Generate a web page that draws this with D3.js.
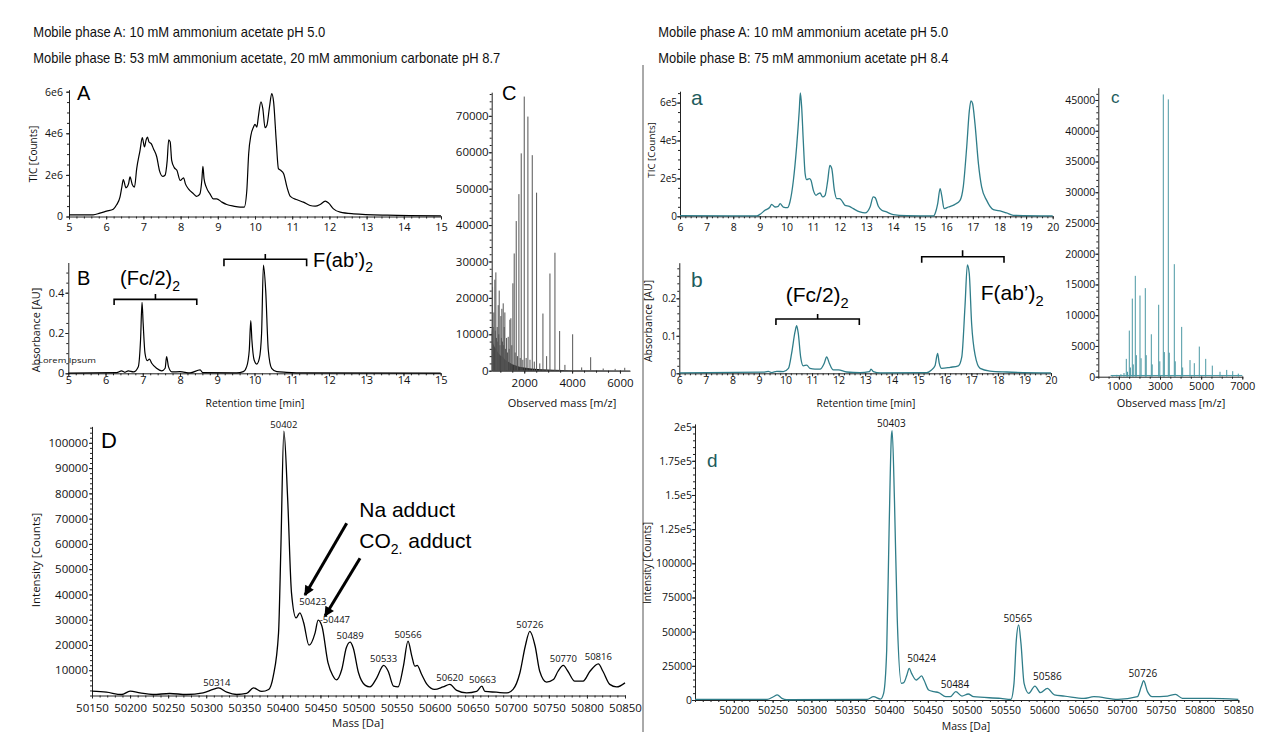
<!DOCTYPE html>
<html><head><meta charset="utf-8">
<script src="https://cdn.jsdelivr.net/npm/d3@7"></script>
<style>
body{margin:0;background:#fff;}
svg{display:block;}
</style></head><body>
<svg id="chart" width="1280" height="752"></svg>
<script>
// ================= DATA =================
const headerLeft = ["Mobile phase A: 10 mM ammonium acetate pH 5.0",
  "Mobile phase B: 53 mM ammonium acetate, 20 mM ammonium carbonate pH 8.7"];
const headerRight = ["Mobile phase A: 10 mM ammonium acetate pH 5.0",
  "Mobile phase B: 75 mM ammonium acetate pH 8.4"];

// Panel A: TIC [Counts] vs retention time [min]
const ticA = [[5.00,80000],[5.65,80000],[5.83,160000],[6.01,257000],[6.19,353000],[6.28,562000],[6.37,932000],[6.42,1410000],[6.46,1770000],[6.53,1380000],[6.60,1570000],[6.64,1900000],[6.70,1540000],[6.76,1410000],[6.82,2300000],[6.91,3180000],[6.97,3790000],[7.03,3340000],[7.07,3660000],[7.11,3820000],[7.15,3580000],[7.21,3500000],[7.27,3260000],[7.36,2860000],[7.43,2220000],[7.52,1930000],[7.58,1980000],[7.64,2700000],[7.68,3690000],[7.72,3580000],[7.76,2700000],[7.83,2350000],[7.90,2220000],[7.99,1730000],[8.08,1860000],[8.13,1570000],[8.21,1330000],[8.35,1090000],[8.43,964000],[8.52,1090000],[8.57,1730000],[8.60,2410000],[8.63,1820000],[8.69,1410000],[8.79,1090000],[8.88,851000],[8.97,851000],[9.11,691000],[9.24,578000],[9.42,498000],[9.60,450000],[9.71,450000],[9.78,1250000],[9.83,3020000],[9.89,3900000],[9.96,4300000],[10.00,4430000],[10.05,4300000],[10.09,4790000],[10.16,5510000],[10.21,5190000],[10.27,4270000],[10.32,4390000],[10.39,5270000],[10.45,5910000],[10.50,5510000],[10.57,3660000],[10.63,2300000],[10.69,2220000],[10.77,2060000],[10.86,1410000],[10.95,964000],[11.13,803000],[11.30,691000],[11.48,530000],[11.62,498000],[11.75,578000],[11.89,739000],[11.98,643000],[12.11,369000],[12.29,209000],[12.65,128000],[13.55,64000],[15.00,32000]];
const ticksA_x = [5,6,7,8,9,10,11,12,13,14,15];
const ticksA_y = [0,2e6,4e6,6e6];
const labelsA_y = ["0","2e6","4e6","6e6"];

// Panel B: absorbance [AU]
const uvB = [[5,0.001],[6.30,0.003],[6.43,0.012],[6.52,0.005],[6.61,0.012],[6.75,0.007],[6.88,0.033],[6.94,0.165],[6.98,0.352],[7.01,0.248],[7.06,0.099],[7.12,0.063],[7.18,0.07],[7.24,0.05],[7.37,0.025],[7.51,0.012],[7.60,0.025],[7.64,0.083],[7.69,0.033],[7.78,0.007],[8.0,0.008],[8.27,0.002],[8.54,0.017],[8.61,0.003],[9.52,0.002],[9.70,0.008],[9.79,0.033],[9.86,0.116],[9.90,0.261],[9.93,0.165],[9.99,0.066],[10.06,0.046],[10.13,0.074],[10.19,0.198],[10.24,0.537],[10.30,0.413],[10.37,0.116],[10.46,0.025],[10.60,0.008],[10.86,0.005],[11.31,0.002],[15,0.0005]];
const ticksB_x = [5,6,7,8,9,10,11,12,13,14,15];
const ticksB_y = [0,0.2,0.4];
const labelsB_y = ["0","0.2","0.4"];

// Panel C: mass spectrum (m/z, intensity)
const envelopeC = [[640,12000],[660,9000],[700,7500],[760,6500],[820,6000],[900,5000],[1000,4200],[1100,3800],[1200,3000],[1300,2600],[1400,2200],[1500,1800],[1650,1400],[1800,1100],[2000,900],[2300,600],[2700,400],[3200,250],[4000,150],[5000,100],[6420,80]];
const sticksC = [[675,23000],[700,12000],[730,16000],[772,25000],[790,11000],[814,27000],[840,9000],[870,12000],[895,8000],[912,18000],[935,10000],[954,22000],[985,7000],[1023,15000],[1045,9000],[1065,17000],[1090,8000],[1121,18500],[1140,7000],[1163,12000],[1190,16000],[1220,6000],[1261,9000],[1300,5000],[1330,9300],[1370,6000],[1400,14000],[1442,14400],[1480,7000],[1526,24000],[1581,32200],[1620,5000],[1665,41100],[1720,4000],[1777,48500],[1830,3500],[1874,59700],[1940,3000],[2000,75300],[2080,3500],[2153,69800],[2240,3000],[2335,59200],[2420,2500],[2516,48900],[2650,2000],[2781,15700],[2935,4000],[3074,26700],[3283,32400],[3479,10900],[3700,1600],[4023,10000],[4400,900],[4776,3700],[5300,600],[5800,500],[6200,800]];
const ticksC_x = [2000,4000,6000];
const ticksC_y = [0,10000,20000,30000,40000,50000,60000,70000];

// Panel D: deconvoluted mass [Da] vs intensity [Counts]
const massD = [[50150,1700],[50169,1300],[50189,400],[50200,1700],[50213,1050],[50230,400],[50252,800],[50274,400],[50296,1050],[50309,2400],[50316,3000],[50327,1300],[50340,400],[50353,800],[50362,3000],[50373,1600],[50382,2400],[50388,7600],[50395,24800],[50398,57800],[50402,104600],[50407,77600],[50412,40600],[50418,30700],[50423,32700],[50428,28800],[50435,19900],[50443,24800],[50447,29800],[50452,27400],[50460,12900],[50466,8000],[50471,6200],[50478,10300],[50484,18900],[50489,21100],[50493,18900],[50500,9000],[50509,4000],[50515,3400],[50524,7000],[50533,11900],[50539,9600],[50546,3700],[50552,3400],[50559,11600],[50565,21500],[50570,15600],[50574,11600],[50577,11900],[50583,8300],[50590,4400],[50600,2400],[50611,3400],[50620,4400],[50629,2000],[50642,1000],[50655,1600],[50662,3700],[50666,1600],[50681,1300],[50695,1000],[50703,2400],[50712,9000],[50719,19500],[50725,25400],[50732,19500],[50738,9600],[50747,5300],[50756,6300],[50762,9600],[50769,11900],[50775,9600],[50784,5700],[50795,5700],[50804,9600],[50815,12500],[50821,9600],[50830,4400],[50839,3400],[50850,5000]];
const ticksD_x = [50150,50200,50250,50300,50350,50400,50450,50500,50550,50600,50650,50700,50750,50800,50850];
const ticksD_y = [10000,20000,30000,40000,50000,60000,70000,80000,90000,100000];
// peak labels: [text, mass at label centre, intensity at label baseline]
const peakLabelsD = [["50314",50314,3880],["50402",50402,105900],["50423",50440,35800],["-50447",50469,28700],["50489",50489,22400],["50533",50533,13300],["50566",50565,22900],["50620",50620,5900],["50663",50663,4800],["50726",50725,26800],["50770",50769,13300],["50816",50815,14000]];

// Panel a
const ticA2 = [[6.0,3500],[8.88,1800],[9.0,10000],[9.19,31700],[9.38,49000],[9.44,63000],[9.57,49000],[9.69,52800],[9.76,66800],[9.88,49000],[10.04,45700],[10.13,75600],[10.26,190000],[10.38,366000],[10.48,559000],[10.52,651000],[10.57,577000],[10.63,401000],[10.70,225000],[10.76,193000],[10.86,199000],[10.92,190000],[11.01,137000],[11.11,111000],[11.20,120000],[11.26,123000],[11.36,102000],[11.45,111000],[11.55,190000],[11.63,269000],[11.70,252000],[11.80,137000],[11.89,93000],[11.99,93000],[12.07,84000],[12.20,58000],[12.36,52800],[12.51,40500],[12.76,22900],[12.95,17600],[13.14,49000],[13.26,102000],[13.33,98500],[13.45,52800],[13.58,31700],[13.76,22900],[14.01,8800],[14.51,3500],[15.52,1800],[15.58,14000],[15.68,66800],[15.77,146000],[15.83,111000],[15.92,40500],[16.08,49000],[16.33,63000],[16.52,84000],[16.64,155000],[16.77,366000],[16.87,559000],[16.93,609000],[16.99,595000],[17.08,489000],[17.21,278000],[17.33,155000],[17.52,84000],[17.77,35200],[18.08,26400],[18.27,17600],[18.52,5300],[20.0,1800]];
const ticksa_x = [6,7,8,9,10,11,12,13,14,15,16,17,18,19,20];
const ticksa_y = [0,2e5,4e5,6e5];
const labelsa_y = ["0","2e5","4e5","6e5"];

// Panel b
const uvb = [[6,0.001],[9.16,0.003],[9.35,0.005],[9.48,0.002],[9.67,0.005],[9.92,0.0045],[10.11,0.013],[10.23,0.053],[10.36,0.111],[10.42,0.127],[10.48,0.107],[10.57,0.044],[10.67,0.02],[10.80,0.022],[10.92,0.013],[11.11,0.011],[11.30,0.011],[11.46,0.027],[11.55,0.044],[11.65,0.027],[11.80,0.009],[11.99,0.009],[12.30,0.0035],[12.81,0.002],[13.16,0.0045],[13.22,0.011],[13.31,0.0045],[13.56,0.001],[15.32,0.002],[15.5,0.009],[15.63,0.02],[15.73,0.053],[15.79,0.027],[15.88,0.013],[16.2,0.016],[16.51,0.02],[16.64,0.044],[16.76,0.178],[16.85,0.289],[16.92,0.267],[17.01,0.133],[17.14,0.049],[17.33,0.013],[17.70,0.006],[18.33,0.0035],[20,0.001]];
const ticksb_x = [6,7,8,9,10,11,12,13,14,15,16,17,18,19,20];
const ticksb_y = [0,0.1,0.2];
const labelsb_y = ["0","0.1","0.2"];

// Panel c
const sticksc = [[700,200],[900,300],[1100,400],[1250,600],[1361,2900],[1420,800],[1507,7500],[1560,1500],[1653,12700],[1700,2000],[1799,16400],[1850,3500],[2027,13200],[2080,3000],[2285,14400],[2330,3500],[2577,6900],[2620,2000],[2935,11700],[2990,2500],[3160,45900],[3210,4000],[3403,45100],[3450,3900],[3695,18300],[3740,2500],[4053,8100],[4100,1500],[4458,2700],[4667,2200],[4910,4900],[5221,2900],[5542,1800],[5917,800],[6242,1100],[6534,900],[6806,500]];
const ticksc_x = [1000,3000,5000,7000];
const ticksc_y = [0,5000,10000,15000,20000,25000,30000,35000,40000,45000];

// Panel d
const massd = [[50150,500],[50243,500],[50251,2400],[50256,3700],[50262,1200],[50268,200],[50372,500],[50380,2400],[50389,700],[50393,4900],[50397,36600],[50400,122000],[50403,192600],[50404,197000],[50407,146000],[50410.5,61000],[50416,12200],[50419,12700],[50423,18300],[50426,23200],[50429,19500],[50435,14600],[50438,15800],[50442,17600],[50445,14600],[50451,7300],[50458,6100],[50464,5400],[50473,2400],[50479,2400],[50486,6100],[50494,2900],[50502,4400],[50509,2400],[50544,1200],[50557,500],[50561,12200],[50564,43900],[50567,54900],[50570,41400],[50574,12200],[50580,4900],[50588,10200],[50595,5400],[50604,8500],[50613,3700],[50626,2900],[50651,1200],[50664,2400],[50695,500],[50720,2400],[50725,9800],[50728,14100],[50733,6100],[50739,2400],[50759,2900],[50769,4100],[50778,1200],[50815,1200],[50850,500]];
const ticksd_x = [50200,50250,50300,50350,50400,50450,50500,50550,50600,50650,50700,50750,50800,50850];
const ticksd_y = [0,25000,50000,75000,100000,125000,150000,175000,200000];
const labelsd_y = ["0","25000","50000","75000","100000","1.25e5","1.5e5","1.75e5","2e5"];
const peakLabelsd = [["50403",50403,199900],["50424",50442,28000],["50484",50485,8600],["50565",50566,57300],["50586",50604,14600],["50726",50727,16600]];

// ================= DRAWING =================
const FONT = "'Open Sans', sans-serif";
const ARIAL = "'Liberation Sans', Arial, sans-serif";
const AX = "#222";
const TEAL = "#2f7d89";
const TEAL_LIGHT = "#4a98a3";
const TEAL_DARK = "#1d5b5c";
const svg = d3.select("#chart");

const defs = svg.append("defs");
defs.append("marker").attr("id","arr").attr("viewBox","0 0 10 10")
  .attr("refX",9).attr("refY",5).attr("markerWidth",12).attr("markerHeight",10)
  .attr("markerUnits","userSpaceOnUse").attr("orient","auto")
  .append("path").attr("d","M0,0 L10,5 L0,10 z").attr("fill","#000");

function panel(p) {
  const x = d3.scaleLinear().domain(p.xd).range(p.xr);
  const y = d3.scaleLinear().domain(p.yd).range(p.yr);
  const g = svg.append("g");
  const x0 = p.xr[0], y0 = y(0);
  if (p.yMinor) g.append("g").attr("transform",`translate(${x0},0)`).attr("color",AX)
    .call(d3.axisLeft(y).tickValues(p.yMinor).tickSize(2).tickFormat(() => "").tickSizeOuter(0))
    .call(s => s.select(".domain").remove());
  if (p.xMinor) g.append("g").attr("transform",`translate(0,${y0})`).attr("color",AX)
    .call(d3.axisBottom(x).tickValues(p.xMinor).tickSize(2).tickFormat(() => "").tickSizeOuter(0))
    .call(s => s.select(".domain").remove());
  const ya = g.append("g").attr("transform",`translate(${x0},0)`).attr("color",AX)
    .call(d3.axisLeft(y).tickValues(p.yTicks)
      .tickFormat(d => p.yLabels ? p.yLabels[p.yTicks.indexOf(d)] : String(d))
      .tickSize(3).tickPadding(p.yPad).tickSizeOuter(0));
  ya.attr("font-family",FONT).attr("font-size",p.yFont);
  ya.selectAll("text").attr("fill","#111");
  const xa = g.append("g").attr("transform",`translate(0,${y0})`).attr("color",AX)
    .call(d3.axisBottom(x).tickValues(p.xTicks)
      .tickFormat(d => String(d))
      .tickSize(3).tickPadding(p.xPad).tickSizeOuter(0));
  xa.attr("font-family",FONT).attr("font-size",p.xFont);
  xa.selectAll("text").attr("fill","#111");
  if (p.yTitle) g.append("text").attr("transform",`translate(${p.yTitle[0]},${p.yTitle[1]}) rotate(-90)`)
    .attr("text-anchor","middle").attr("font-family",FONT).attr("font-size",p.yTitle[2]).attr("fill","#111")
    .text(p.yTitle[3]);
  if (p.xTitle) g.append("text").attr("x",p.xTitle[0]).attr("y",p.xTitle[1])
    .attr("text-anchor","middle").attr("font-family",FONT).attr("font-size",p.xTitle[2]).attr("fill","#111")
    .text(p.xTitle[3]);
  if (p.letter) g.append("text").attr("x",p.letter[0]).attr("y",p.letter[1])
    .attr("font-family",ARIAL).attr("font-size",p.letter[2]).attr("fill",p.letter[4] || "#000")
    .text(p.letter[3]);
  return {x, y, g};
}

function trace(P, data, color, w) {
  P.g.append("path").datum(data)
    .attr("d", d3.line().x(d => P.x(d[0])).y(d => P.y(d[1])).curve(d3.curveMonotoneX))
    .attr("fill","none").attr("stroke",color).attr("stroke-width",w).attr("stroke-linejoin","round");
}
function sticks(P, data, color, w) {
  P.g.append("g").selectAll("line").data(data).join("line")
    .attr("x1", d => P.x(d[0])).attr("x2", d => P.x(d[0]))
    .attr("y1", P.y(0)).attr("y2", d => P.y(d[1]))
    .attr("stroke", color).attr("stroke-width", w);
}
function bracket(P, x1, x2, xc, yBar, yEnd, yTick) {
  P.g.append("path")
    .attr("d", `M${P.x(x1)},${P.y(yEnd)} V${P.y(yBar)} H${P.x(x2)} V${P.y(yEnd)} M${P.x(xc)},${P.y(yBar)} V${P.y(yTick)}`)
    .attr("fill","none").attr("stroke","#000").attr("stroke-width",1.6);
}
function subLabel(P, xv, yv, main, sub, size) {
  const t = P.g.append("text").attr("x",P.x(xv)).attr("y",P.y(yv))
    .attr("font-family",ARIAL).attr("font-size",size).attr("fill","#000");
  t.append("tspan").text(main);
  t.append("tspan").attr("font-size",size*0.7).attr("dy",size*0.28).text(sub);
}
function peakLabels(P, labels, size) {
  P.g.append("g").selectAll("text").data(labels).join("text")
    .attr("x", d => P.x(d[1])).attr("y", d => P.y(d[2]))
    .attr("text-anchor","middle").attr("font-family",FONT).attr("font-size",size).attr("fill","#111")
    .text(d => d[0]);
}

[[headerLeft, 33.3, [292, 467]],[headerRight, 658.3, [290, 290]]].forEach(([lines, hx, widths]) => {
  lines.forEach((s, i) => svg.append("text").attr("x",hx).attr("y", i ? 63.3 : 36.7)
    .attr("font-family",ARIAL).attr("font-size",14.5).attr("fill","#111")
    .attr("textLength",widths[i]).attr("lengthAdjust","spacingAndGlyphs").text(s));
});
// divider
svg.append("line").attr("x1",643).attr("x2",643).attr("y1",65).attr("y2",732)
  .attr("stroke","#555").attr("stroke-width",1);

// ---------- A ----------
const PA = panel({xd:[5,15], xr:[69,441], yd:[0,6.1e6], yr:[216.5,89.6],
  xTicks:ticksA_x, xMinor:d3.range(5,15.01,0.2), xPad:4, xFont:11,
  yTicks:ticksA_y, yLabels:labelsA_y, yMinor:d3.range(0,6.1e6,0.5e6), yPad:3, yFont:10.5,
  yTitle:[37,154,10,"TIC [Counts]"], letter:[77,100,20,"A"]});
trace(PA, ticA, "#000", 1.2);

// ---------- B ----------
const PB = panel({xd:[5,15], xr:[68.3,440.7], yd:[0,0.55], yr:[373.3,262.5],
  xTicks:ticksB_x, xMinor:d3.range(5,15.01,0.2), xPad:0, xFont:11,
  yTicks:ticksB_y, yLabels:labelsB_y, yMinor:d3.range(0,0.55,0.05), yPad:1, yFont:11,
  yTitle:[40,330,10.8,"Absorbance [AU]"], xTitle:[255,407,10.3,"Retention time [min]"],
  letter:[77,285,20,"B"]});
trace(PB, uvB, "#000", 1.2);
bracket(PB, 6.23, 8.45, 7.34, 0.367, 0.339, 0.394);
bracket(PB, 9.18, 11.40, 10.29, 0.566, 0.532, 0.592);
subLabel(PB, 6.39, 0.438, "(Fc/2)", "2", 20);
subLabel(PB, 11.57, 0.529, "F(ab\u2019)", "2", 20);
PB.g.append("text").attr("x",38).attr("y",363.3).attr("font-family",FONT).attr("font-size",6.5)
  .attr("textLength",58).attr("lengthAdjust","spacingAndGlyphs")
  .attr("fill","#111").text("Lorem Ipsum");

// ---------- C ----------
const PC = panel({xd:[640,6420], xr:[491.7,630], yd:[0,76500], yr:[370.7,92.2],
  xTicks:ticksC_x, xMinor:d3.range(1000,6420,500), xPad:5, xFont:11.5,
  yTicks:ticksC_y, yMinor:d3.range(0,76500,2000), yPad:0, yFont:11.5,
  xTitle:[562,407,11,"Observed mass [m/z]"], letter:[502,100,20,"C"]});
PC.g.append("path").datum(envelopeC)
  .attr("d", d3.area().x(d => PC.x(d[0])).y0(PC.y(0)).y1(d => PC.y(d[1])))
  .attr("fill","#111");
sticks(PC, sticksC, "#555", 1);

// ---------- D ----------
const PD = panel({xd:[50150,50850], xr:[92,625], yd:[0,106500], yr:[695.5,426.4],
  xTicks:ticksD_x, xMinor:d3.range(50150,50851,10), xPad:5, xFont:11.5,
  yTicks:ticksD_y, yMinor:d3.range(0,106500,2000), yPad:1, yFont:11.5,
  yTitle:[40,560,11.5,"Intensity [Counts]"], xTitle:[358,727,11.3,"Mass [Da]"],
  letter:[101,448,22,"D"]});
trace(PD, massD, "#000", 1.3);
peakLabels(PD, peakLabelsD, 9.5);
// annotation arrows (data space: [mass1, int1, mass2, int2])
const arrowsD = [[50484.5,68150,50429.7,39770],[50502,54290,50456,31460]];
arrowsD.forEach(a => PD.g.append("line")
  .attr("x1",PD.x(a[0])).attr("y1",PD.y(a[1])).attr("x2",PD.x(a[2])).attr("y2",PD.y(a[3]))
  .attr("stroke","#000").attr("stroke-width",3).attr("marker-end","url(#arr)"));
PD.g.append("text").attr("x",PD.x(50501)).attr("y",PD.y(70500))
  .attr("font-family",ARIAL).attr("font-size",21).attr("fill","#000").text("Na adduct");
{
  const t = PD.g.append("text").attr("x",PD.x(50501)).attr("y",PD.y(58250))
    .attr("font-family",ARIAL).attr("font-size",21).attr("fill","#000");
  t.append("tspan").text("CO");
  t.append("tspan").attr("font-size",14).attr("dy",6).text("2.");
  t.append("tspan").attr("dy",-6).text(" adduct");
}

// ---------- a ----------
const Pa = panel({xd:[6,20], xr:[680,1052.7], yd:[0,6.6e5], yr:[216.3,91.2],
  xTicks:ticksa_x, xMinor:d3.range(6,20.01,0.2), xPad:4, xFont:10.5,
  yTicks:ticksa_y, yLabels:labelsa_y, yMinor:d3.range(0,6.6e5,0.5e5), yPad:0, yFont:10,
  yTitle:[655,150,9.8,"TIC [Counts]"], letter:[691,105,21,"a",TEAL_DARK]});
trace(Pa, ticA2, TEAL, 1.3);

// ---------- b ----------
const Pb = panel({xd:[6,20], xr:[679.3,1051], yd:[0,0.295], yr:[373.3,262.7],
  xTicks:ticksb_x, xMinor:d3.range(6,20.01,0.2), xPad:0, xFont:10.5,
  yTicks:ticksb_y, yLabels:labelsb_y, yMinor:d3.range(0,0.295,0.02), yPad:0, yFont:10,
  yTitle:[652,321,10.5,"Absorbance [AU]"], xTitle:[866,407,10.3,"Retention time [min]"],
  letter:[691,287,21,"b",TEAL_DARK]});
trace(Pb, uvb, TEAL, 1.3);
bracket(Pb, 9.64, 12.78, 11.21, 0.1448, 0.1288, 0.158);
bracket(Pb, 15.13, 18.23, 16.67, 0.311, 0.295, 0.328);
subLabel(Pb, 10.01, 0.191, "(Fc/2)", "2", 21);
subLabel(Pb, 17.35, 0.1955, "F(ab\u2019)", "2", 21);

// ---------- c ----------
const Pc = panel({xd:[0,7000], xr:[1098.3,1242.3], yd:[0,47000], yr:[376.7,87.7],
  xTicks:ticksc_x, xMinor:d3.range(0,7001,500), xPad:3, xFont:11,
  yTicks:ticksc_y, yMinor:d3.range(0,47000,1000), yPad:0, yFont:10.5,
  xTitle:[1171,407,11,"Observed mass [m/z]"], letter:[1111,103,17,"c",TEAL_DARK]});
sticks(Pc, sticksc, TEAL_LIGHT, 1);
Pc.g.append("line").attr("x1",Pc.x(600)).attr("x2",Pc.x(7000)).attr("y1",Pc.y(200)).attr("y2",Pc.y(200))
  .attr("stroke",TEAL_LIGHT).attr("stroke-width",1);

// ---------- d ----------
const Pd = panel({xd:[50150,50850], xr:[695,1238.3], yd:[0,202000], yr:[700,423.9],
  xTicks:ticksd_x, xMinor:d3.range(50150,50851,10), xPad:4, xFont:10.5,
  yTicks:ticksd_y, yLabels:labelsd_y, yMinor:d3.range(0,202000,5000), yPad:0, yFont:10.5,
  yTitle:[651,563,10,"Intensity [Counts]"], xTitle:[966,730,10.5,"Mass [Da]"],
  letter:[707,467,19,"d",TEAL_DARK]});
trace(Pd, massd, TEAL, 1.3);
peakLabels(Pd, peakLabelsd, 10);
</script>
</body></html>
